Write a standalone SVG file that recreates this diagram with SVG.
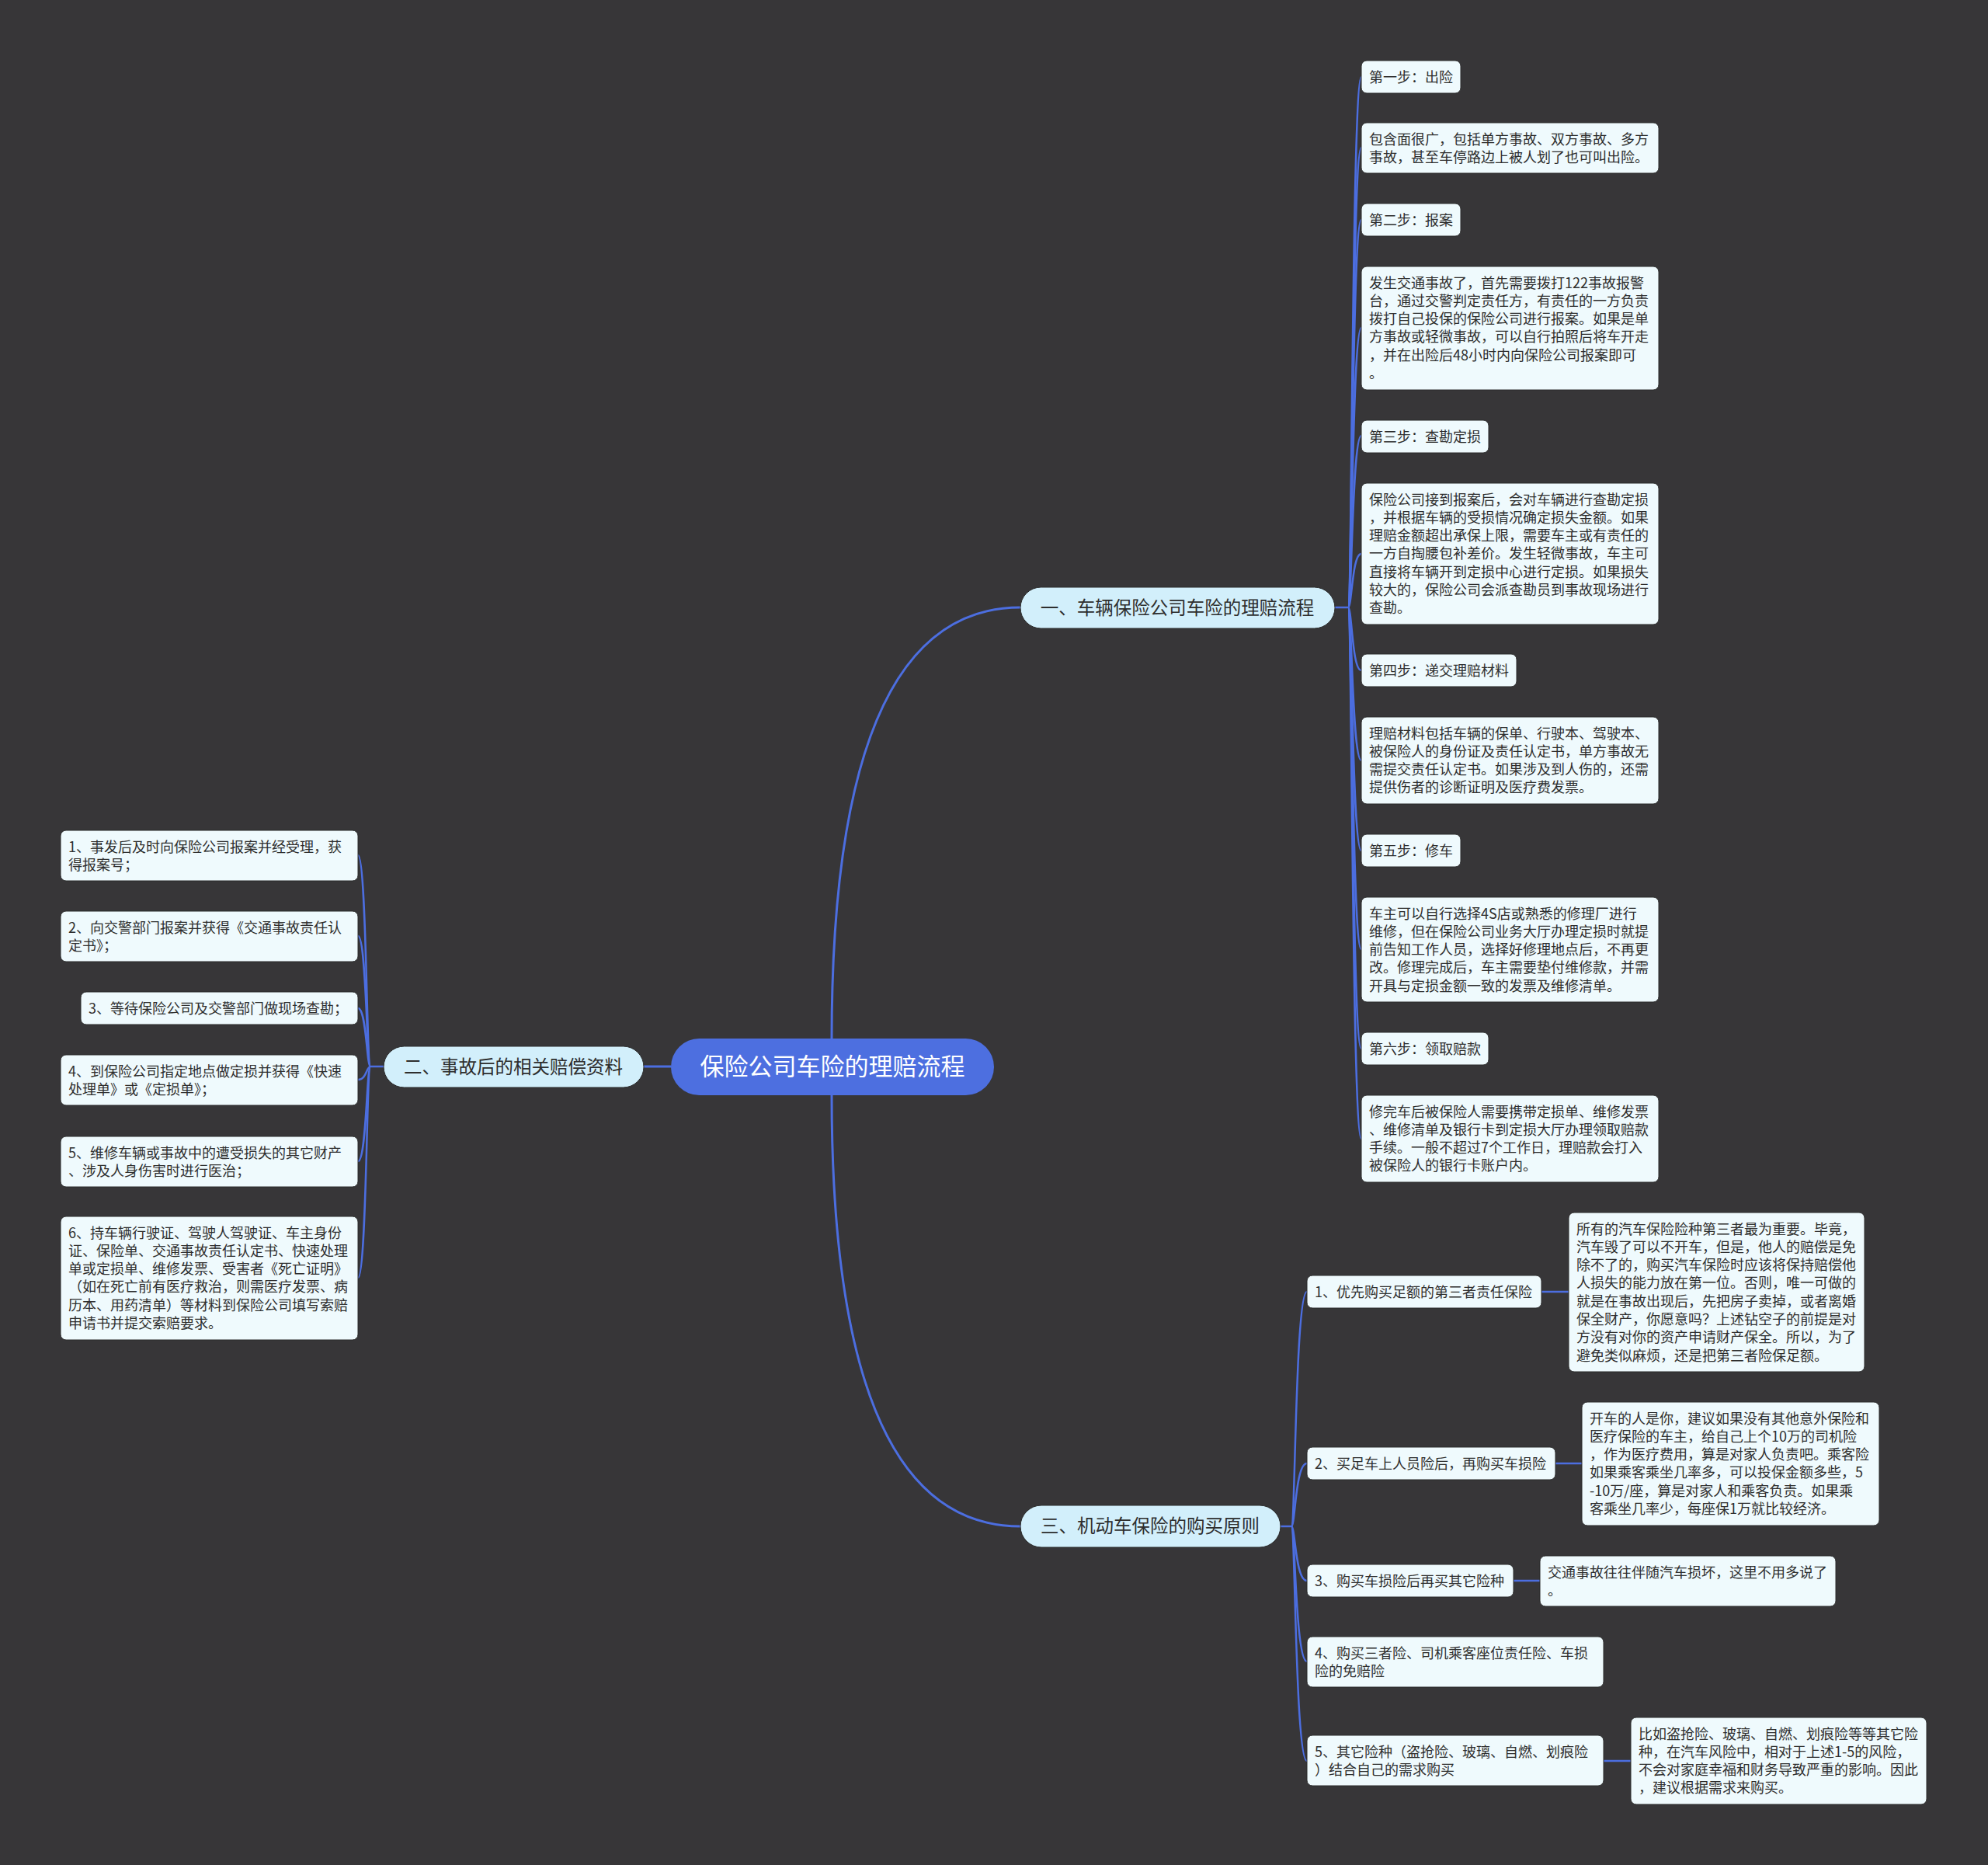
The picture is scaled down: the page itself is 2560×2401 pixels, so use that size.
<svg xmlns="http://www.w3.org/2000/svg" width="2560" height="2401" viewBox="0 0 2560 2401">
<style>
text{font-family:"Noto Sans CJK SC","Noto Sans",sans-serif;}
.bg{fill:#373638;}
.leaf{fill:#effafd;stroke:#2a2a2a;stroke-width:1;}
.branch{fill:#d2effb;stroke:#2a2a2a;stroke-width:1;}
.root{fill:#4d6fe0;}
.t{font-size:18px;fill:#2e2e2e;}
.bt{font-size:23.5px;fill:#2e2e2e;text-anchor:middle;}
.rt{font-size:31px;fill:#ffffff;text-anchor:middle;}
.main{fill:none;stroke:#4c6ee0;stroke-width:3;}
.sub{fill:none;stroke:#4c6ee0;stroke-width:2.5;}
</style>
<rect class="bg" x="0" y="0" width="2560" height="2401"/>

<g id="connectors">
  <path class="main" d="M1071,1337 Q1071,782 1314,782"/>
  <path class="main" d="M1071,1410 Q1071,1965 1314,1965"/>
  <path class="main" d="M864,1373 H829"/>
  <path class="sub" d="M1719,782 H1736"/>
  <path class="sub" d="M1736,782 C1741,782 1741,99 1753,99"/>
  <path class="sub" d="M1736,782 C1741,782 1741,190 1753,190"/>
  <path class="sub" d="M1736,782 C1741,782 1741,283 1753,283"/>
  <path class="sub" d="M1736,782 C1741,782 1741,422 1753,422"/>
  <path class="sub" d="M1736,782 C1741,782 1741,561 1753,561"/>
  <path class="sub" d="M1736,782 C1741,782 1741,713 1753,713"/>
  <path class="sub" d="M1736,782 C1741,782 1741,863 1753,863"/>
  <path class="sub" d="M1736,782 C1741,782 1741,979 1753,979"/>
  <path class="sub" d="M1736,782 C1741,782 1741,1095 1753,1095"/>
  <path class="sub" d="M1736,782 C1741,782 1741,1222 1753,1222"/>
  <path class="sub" d="M1736,782 C1741,782 1741,1350 1753,1350"/>
  <path class="sub" d="M1736,782 C1741,782 1741,1466 1753,1466"/>
  <path class="sub" d="M494,1373 H477"/>
  <path class="sub" d="M477,1373 C472,1373 472,1101 461,1101"/>
  <path class="sub" d="M477,1373 C472,1373 472,1205 461,1205"/>
  <path class="sub" d="M477,1373 C472,1373 472,1298 461,1298"/>
  <path class="sub" d="M477,1373 C472,1373 472,1390 461,1390"/>
  <path class="sub" d="M477,1373 C472,1373 472,1495 461,1495"/>
  <path class="sub" d="M477,1373 C472,1373 472,1645 461,1645"/>
  <path class="sub" d="M1649,1965 H1663"/>
  <path class="sub" d="M1663,1965 C1668,1965 1668,1663 1683,1663"/>
  <path class="sub" d="M1663,1965 C1668,1965 1668,1884 1683,1884"/>
  <path class="sub" d="M1663,1965 C1668,1965 1668,2035 1683,2035"/>
  <path class="sub" d="M1663,1965 C1668,1965 1668,2139 1683,2139"/>
  <path class="sub" d="M1663,1965 C1668,1965 1668,2267 1683,2267"/>
  <path class="sub" d="M1985,1663 H2020"/>
  <path class="sub" d="M2003,1884 H2037"/>
  <path class="sub" d="M1949,2035 H1983"/>
  <path class="sub" d="M2065,2267 H2100"/>
</g>

<g id="root">
  <rect class="root" x="864" y="1337" width="416" height="73" rx="36.5"/>
  <text class="rt" x="1072" y="1384">保险公司车险的理赔流程</text>
</g>

<g id="branch1">
  <rect class="branch" x="1314" y="756" width="405" height="53" rx="26.5"/>
  <text class="bt" x="1516" y="790.5">一、车辆保险公司车险的理赔流程</text>
</g>
<g id="branch2">
  <rect class="branch" x="494" y="1347" width="335" height="53" rx="26.5"/>
  <text class="bt" x="661" y="1381.5">二、事故后的相关赔偿资料</text>
</g>
<g id="branch3">
  <rect class="branch" x="1314" y="1938" width="335" height="54" rx="27"/>
  <text class="bt" x="1481" y="1973">三、机动车保险的购买原则</text>
</g>

<g id="b1-step1">
  <rect class="leaf" x="1753" y="78" width="128" height="42" rx="7"/>
  <text class="t" x="1763" y="105.5">第一步：出险</text>
</g>
<g id="b1-step1-desc">
  <rect class="leaf" x="1753" y="158" width="383" height="65" rx="7"/>
  <text class="t" x="1763" y="185.5"><tspan x="1763">包含面很广，包括单方事故、双方事故、多方</tspan><tspan x="1763" dy="23.3">事故，甚至车停路边上被人划了也可叫出险。</tspan></text>
</g>
<g id="b1-step2">
  <rect class="leaf" x="1753" y="262" width="128" height="42" rx="7"/>
  <text class="t" x="1763" y="289.5">第二步：报案</text>
</g>
<g id="b1-step2-desc">
  <rect class="leaf" x="1753" y="343" width="383" height="159" rx="7"/>
  <text class="t" x="1763" y="370.5"><tspan x="1763">发生交通事故了，首先需要拨打122事故报警</tspan><tspan x="1763" dy="23.3">台，通过交警判定责任方，有责任的一方负责</tspan><tspan x="1763" dy="23.3">拨打自己投保的保险公司进行报案。如果是单</tspan><tspan x="1763" dy="23.3">方事故或轻微事故，可以自行拍照后将车开走</tspan><tspan x="1763" dy="23.3">，并在出险后48小时内向保险公司报案即可</tspan><tspan x="1763" dy="23.3">。</tspan></text>
</g>
<g id="b1-step3">
  <rect class="leaf" x="1753" y="541" width="164" height="42" rx="7"/>
  <text class="t" x="1763" y="568.5">第三步：查勘定损</text>
</g>
<g id="b1-step3-desc">
  <rect class="leaf" x="1753" y="622" width="383" height="182" rx="7"/>
  <text class="t" x="1763" y="649.5"><tspan x="1763">保险公司接到报案后，会对车辆进行查勘定损</tspan><tspan x="1763" dy="23.3">，并根据车辆的受损情况确定损失金额。如果</tspan><tspan x="1763" dy="23.3">理赔金额超出承保上限，需要车主或有责任的</tspan><tspan x="1763" dy="23.3">一方自掏腰包补差价。发生轻微事故，车主可</tspan><tspan x="1763" dy="23.3">直接将车辆开到定损中心进行定损。如果损失</tspan><tspan x="1763" dy="23.3">较大的，保险公司会派查勘员到事故现场进行</tspan><tspan x="1763" dy="23.3">查勘。</tspan></text>
</g>
<g id="b1-step4">
  <rect class="leaf" x="1753" y="842" width="200" height="42" rx="7"/>
  <text class="t" x="1763" y="869.5">第四步：递交理赔材料</text>
</g>
<g id="b1-step4-desc">
  <rect class="leaf" x="1753" y="923" width="383" height="112" rx="7"/>
  <text class="t" x="1763" y="950.5"><tspan x="1763">理赔材料包括车辆的保单、行驶本、驾驶本、</tspan><tspan x="1763" dy="23.3">被保险人的身份证及责任认定书，单方事故无</tspan><tspan x="1763" dy="23.3">需提交责任认定书。如果涉及到人伤的，还需</tspan><tspan x="1763" dy="23.3">提供伤者的诊断证明及医疗费发票。</tspan></text>
</g>
<g id="b1-step5">
  <rect class="leaf" x="1753" y="1074" width="128" height="42" rx="7"/>
  <text class="t" x="1763" y="1101.5">第五步：修车</text>
</g>
<g id="b1-step5-desc">
  <rect class="leaf" x="1753" y="1155" width="383" height="135" rx="7"/>
  <text class="t" x="1763" y="1182.5"><tspan x="1763">车主可以自行选择4S店或熟悉的修理厂进行</tspan><tspan x="1763" dy="23.3">维修，但在保险公司业务大厅办理定损时就提</tspan><tspan x="1763" dy="23.3">前告知工作人员，选择好修理地点后，不再更</tspan><tspan x="1763" dy="23.3">改。修理完成后，车主需要垫付维修款，并需</tspan><tspan x="1763" dy="23.3">开具与定损金额一致的发票及维修清单。</tspan></text>
</g>
<g id="b1-step6">
  <rect class="leaf" x="1753" y="1329" width="164" height="42" rx="7"/>
  <text class="t" x="1763" y="1356.5">第六步：领取赔款</text>
</g>
<g id="b1-step6-desc">
  <rect class="leaf" x="1753" y="1410" width="383" height="112" rx="7"/>
  <text class="t" x="1763" y="1437.5"><tspan x="1763">修完车后被保险人需要携带定损单、维修发票</tspan><tspan x="1763" dy="23.3">、维修清单及银行卡到定损大厅办理领取赔款</tspan><tspan x="1763" dy="23.3">手续。一般不超过7个工作日，理赔款会打入</tspan><tspan x="1763" dy="23.3">被保险人的银行卡账户内。</tspan></text>
</g>

<g id="b2-item1">
  <rect class="leaf" x="78" y="1069" width="383" height="65" rx="7"/>
  <text class="t" x="88" y="1096.5"><tspan x="88">1、事发后及时向保险公司报案并经受理，获</tspan><tspan x="88" dy="23.3">得报案号；</tspan></text>
</g>
<g id="b2-item2">
  <rect class="leaf" x="78" y="1173" width="383" height="65" rx="7"/>
  <text class="t" x="88" y="1200.5"><tspan x="88">2、向交警部门报案并获得《交通事故责任认</tspan><tspan x="88" dy="23.3">定书》；</tspan></text>
</g>
<g id="b2-item3">
  <rect class="leaf" x="104" y="1277" width="357" height="42" rx="7"/>
  <text class="t" x="114" y="1304.5">3、等待保险公司及交警部门做现场查勘；</text>
</g>
<g id="b2-item4">
  <rect class="leaf" x="78" y="1358" width="383" height="65" rx="7"/>
  <text class="t" x="88" y="1385.5"><tspan x="88">4、到保险公司指定地点做定损并获得《快速</tspan><tspan x="88" dy="23.3">处理单》或《定损单》；</tspan></text>
</g>
<g id="b2-item5">
  <rect class="leaf" x="78" y="1463" width="383" height="65" rx="7"/>
  <text class="t" x="88" y="1490.5"><tspan x="88">5、维修车辆或事故中的遭受损失的其它财产</tspan><tspan x="88" dy="23.3">、涉及人身伤害时进行医治；</tspan></text>
</g>
<g id="b2-item6">
  <rect class="leaf" x="78" y="1566" width="383" height="159" rx="7"/>
  <text class="t" x="88" y="1593.5"><tspan x="88">6、持车辆行驶证、驾驶人驾驶证、车主身份</tspan><tspan x="88" dy="23.3">证、保险单、交通事故责任认定书、快速处理</tspan><tspan x="88" dy="23.3">单或定损单、维修发票、受害者《死亡证明》</tspan><tspan x="88" dy="23.3">（如在死亡前有医疗救治，则需医疗发票、病</tspan><tspan x="88" dy="23.3">历本、用药清单）等材料到保险公司填写索赔</tspan><tspan x="88" dy="23.3">申请书并提交索赔要求。</tspan></text>
</g>

<g id="b3-item1">
  <rect class="leaf" x="1683" y="1642" width="302" height="42" rx="7"/>
  <text class="t" x="1693" y="1669.5">1、优先购买足额的第三者责任保险</text>
</g>
<g id="b3-item1-desc">
  <rect class="leaf" x="2020" y="1561" width="381" height="205" rx="7"/>
  <text class="t" x="2030" y="1588.5"><tspan x="2030">所有的汽车保险险种第三者最为重要。毕竟，</tspan><tspan x="2030" dy="23.3">汽车毁了可以不开车，但是，他人的赔偿是免</tspan><tspan x="2030" dy="23.3">除不了的，购买汽车保险时应该将保持赔偿他</tspan><tspan x="2030" dy="23.3">人损失的能力放在第一位。否则，唯一可做的</tspan><tspan x="2030" dy="23.3">就是在事故出现后，先把房子卖掉，或者离婚</tspan><tspan x="2030" dy="23.3">保全财产，你愿意吗？上述钻空子的前提是对</tspan><tspan x="2030" dy="23.3">方没有对你的资产申请财产保全。所以，为了</tspan><tspan x="2030" dy="23.3">避免类似麻烦，还是把第三者险保足额。</tspan></text>
</g>
<g id="b3-item2">
  <rect class="leaf" x="1683" y="1863" width="320" height="42" rx="7"/>
  <text class="t" x="1693" y="1890.5">2、买足车上人员险后，再购买车损险</text>
</g>
<g id="b3-item2-desc">
  <rect class="leaf" x="2037" y="1805" width="383" height="159" rx="7"/>
  <text class="t" x="2047" y="1832.5"><tspan x="2047">开车的人是你，建议如果没有其他意外保险和</tspan><tspan x="2047" dy="23.3">医疗保险的车主，给自己上个10万的司机险</tspan><tspan x="2047" dy="23.3">，作为医疗费用，算是对家人负责吧。乘客险</tspan><tspan x="2047" dy="23.3">如果乘客乘坐几率多，可以投保金额多些，5</tspan><tspan x="2047" dy="23.3">-10万/座，算是对家人和乘客负责。如果乘</tspan><tspan x="2047" dy="23.3">客乘坐几率少，每座保1万就比较经济。</tspan></text>
</g>
<g id="b3-item3">
  <rect class="leaf" x="1683" y="2014" width="266" height="42" rx="7"/>
  <text class="t" x="1693" y="2041.5">3、购买车损险后再买其它险种</text>
</g>
<g id="b3-item3-desc">
  <rect class="leaf" x="1983" y="2003" width="381" height="65" rx="7"/>
  <text class="t" x="1993" y="2030.5"><tspan x="1993">交通事故往往伴随汽车损坏，这里不用多说了</tspan><tspan x="1993" dy="23.3">。</tspan></text>
</g>
<g id="b3-item4">
  <rect class="leaf" x="1683" y="2107" width="382" height="65" rx="7"/>
  <text class="t" x="1693" y="2134.5"><tspan x="1693">4、购买三者险、司机乘客座位责任险、车损</tspan><tspan x="1693" dy="23.3">险的免赔险</tspan></text>
</g>
<g id="b3-item5">
  <rect class="leaf" x="1683" y="2234" width="382" height="65" rx="7"/>
  <text class="t" x="1693" y="2261.5"><tspan x="1693">5、其它险种（盗抢险、玻璃、自燃、划痕险</tspan><tspan x="1693" dy="23.3">）结合自己的需求购买</tspan></text>
</g>
<g id="b3-item5-desc">
  <rect class="leaf" x="2100" y="2211" width="381" height="112" rx="7"/>
  <text class="t" x="2110" y="2238.5"><tspan x="2110">比如盗抢险、玻璃、自燃、划痕险等等其它险</tspan><tspan x="2110" dy="23.3">种，在汽车风险中，相对于上述1-5的风险，</tspan><tspan x="2110" dy="23.3">不会对家庭幸福和财务导致严重的影响。因此</tspan><tspan x="2110" dy="23.3">，建议根据需求来购买。</tspan></text>
</g>
</svg>
